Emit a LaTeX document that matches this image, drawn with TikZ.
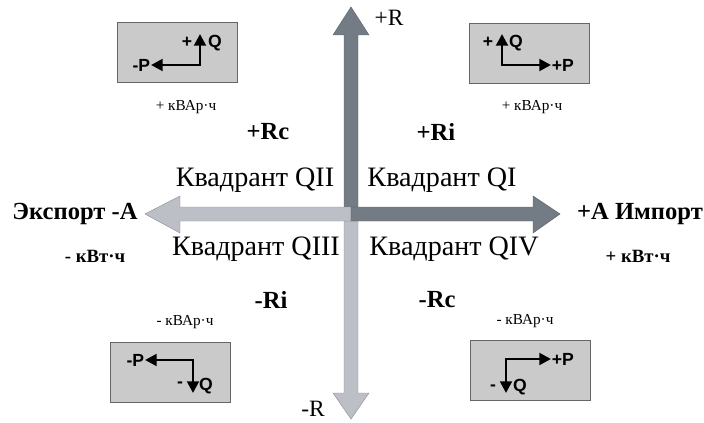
\documentclass[tikz,border=0pt]{standalone}
\usepackage{fontspec}
\setmainfont{Liberation Serif}
\newfontfamily\panelfont{Liberation Sans}
\usetikzlibrary{arrows.meta}

\definecolor{axisdark}{HTML}{737B85}
\definecolor{axislight}{HTML}{BCC0C6}
\definecolor{axisline}{HTML}{5E646C}
\definecolor{panelgray}{HTML}{CACACA}

\tikzset{
    quadtext/.style={font=\fontsize{24}{28}\selectfont},
    rtag/.style={font=\fontsize{21}{25}\selectfont\bfseries},
    sidetag/.style={font=\fontsize{21}{25}\selectfont\bfseries},
    kwt/.style={font=\fontsize{16}{19}\selectfont\bfseries},
    kvar/.style={font=\fontsize{13}{15}\selectfont},
    rlabel/.style={font=\fontsize{20}{24}\selectfont},
    panel/.style={draw=black!60, fill=panelgray, line width=0.6pt, minimum width=3.6cm, minimum height=1.8cm},
    ptext/.style={font=\fontsize{15}{18}\panelfont\bfseries, inner sep=0.5pt},
    parrow/.style={line width=2.4pt, {Triangle[length=10pt, width=10pt]}-{Triangle[length=10pt, width=10pt]}}
}

\begin{document}
\begin{tikzpicture}[x=0.03cm, y=-0.03cm]
            \useasboundingbox (0,0) rectangle (704,422);

            % axes
            \filldraw [fill=axisdark, draw=axisline, line width=0.4pt] (344,207) -- (344,35) -- (333,35) -- (351,7) -- (369,35) -- (358,35) -- (358,207) -- cycle;
            \filldraw [fill=axislight, draw=axisline!70, line width=0.4pt] (344,221) -- (344,393) -- (333,393) -- (351,419) -- (369,393) -- (358,393) -- (358,221) -- cycle;
            \filldraw [fill=axislight, draw=axisline!70, line width=0.4pt] (351,207) -- (180,207) -- (180,196) -- (145,214) -- (180,233) -- (180,221) -- (351,221) -- cycle;
            \filldraw [fill=axisdark, draw=axisline, line width=0.4pt] (351,207) -- (533,207) -- (533,196) -- (560,214) -- (533,233) -- (533,221) -- (351,221) -- cycle;

            \node (rplus) at (389,18) [rlabel] {+R};
            \node (rminus) at (313,409) [rlabel] {-R};

            \node (q2) at (255,180) [quadtext] {Квадрант QII};
            \node (q1) at (442,180) [quadtext] {Квадрант QI};
            \node (q3) at (256,249) [quadtext] {Квадрант QIII};
            \node (q4) at (454,249) [quadtext] {Квадрант QIV};

            \node (rc_plus) at (268,132) [rtag] {+Rc};
            \node (ri_plus) at (436,132) [rtag] {+Ri};
            \node (ri_minus) at (271,300) [rtag] {-Ri};
            \node (rc_minus) at (437,300) [rtag] {-Rc};

            \node (export) at (75,214) [sidetag] {Экспорт -А};
            \node (import) at (640,214) [sidetag] {+А Импорт};
            \node (kwt_minus) at (95,256) [kwt] {- кВт·ч};
            \node (kwt_plus) at (638,256) [kwt] {+ кВт·ч};

            % panels
            \node (tl) at (177,52) [panel] {};
            \node (tr) at (529,53) [panel] {};
            \node (bl) at (170,372) [panel] {};
            \node (br) at (530,370) [panel] {};

            \node (tl_var) at (186,107) [kvar] {+ кВАр·ч};
            \node (tr_var) at (532,107) [kvar] {+ кВАр·ч};
            \node (bl_var) at (185,322) [kvar] {- кВАр·ч};
            \node (br_var) at (525,321) [kvar] {- кВАр·ч};

            % top left
            \coordinate (tl_c) at (200,65);
            \coordinate (tl_qt) at (200,34);
            \node (tl_s) at (187,42) [ptext] {+};
            \node (tl_q) at (215,43) [ptext] {Q};
            \node (tl_p) at (151,65) [ptext, anchor=east] {-P};
            \draw [parrow] (tl_qt) -- (tl_c) -- (tl_p.east);

            % top right
            \coordinate (tr_c) at (502,65);
            \coordinate (tr_qt) at (502,34);
            \node (tr_s) at (488,42) [ptext] {+};
            \node (tr_q) at (516,43) [ptext] {Q};
            \node (tr_p) at (551,65) [ptext, anchor=west] {+P};
            \draw [parrow] (tr_qt) -- (tr_c) -- (tr_p.west);

            % bottom left
            \coordinate (bl_c) at (193,360);
            \coordinate (bl_qt) at (193,393);
            \node (bl_s) at (180,385) [ptext] {-};
            \node (bl_q) at (206,386) [ptext] {Q};
            \node (bl_p) at (145,360) [ptext, anchor=east] {-P};
            \draw [parrow] (bl_p.east) -- (bl_c) -- (bl_qt);

            % bottom right
            \coordinate (br_c) at (506,359);
            \coordinate (br_qt) at (506,393);
            \node (br_s) at (493,388) [ptext] {-};
            \node (br_q) at (520,387) [ptext] {Q};
            \node (br_p) at (551,359) [ptext, anchor=west] {+P};
            \draw [parrow] (br_p.west) -- (br_c) -- (br_qt);
\end{tikzpicture}
\end{document}
